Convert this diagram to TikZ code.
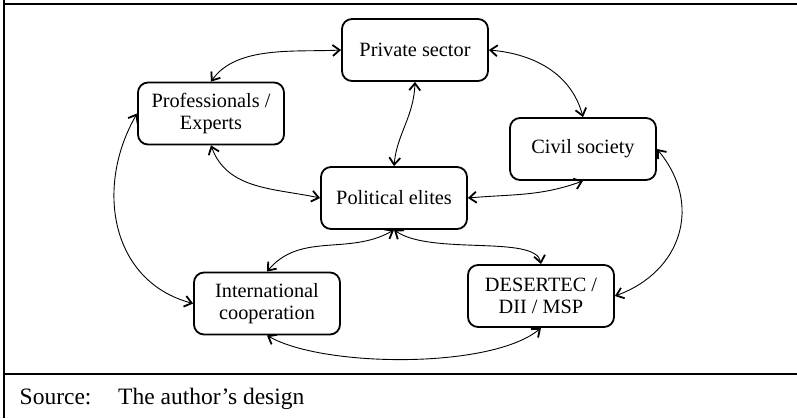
\documentclass[tikz,border=0pt]{standalone}
\usepackage{fontspec}
\setmainfont{Liberation Serif}
\usetikzlibrary{arrows.meta}
\begin{document}
\begin{tikzpicture}[x=1pt,y=1pt,
  actor/.style={draw, line width=1.8pt, rounded corners=10pt, minimum width=146pt, minimum height=62pt,
    align=center, inner sep=0pt, font=\fontsize{20.3}{22.7}\selectfont},
  link/.style={line width=0.9pt, >={Straight Barb[length=7pt,width=11pt,line width=1.8pt]}, <->},
  frameline/.style={line width=1.8pt},
  srctext/.style={anchor=base west, inner sep=0pt, font=\fontsize{23.5}{26}\selectfont}]
\useasboundingbox (0,0) rectangle (797,418);
% frame
\draw[frameline] (3.9,418) -- (3.9,0);
\draw[frameline] (3,414) -- (797,414);
\draw[frameline] (3,44.3) -- (797,44.3);
% actors
\node[actor] (priv) at (415,368) {Private sector};
\node[actor] (prof) at (211,304.5) {Professionals /\\Experts};
\node[actor] (civ) at (583,269) {Civil society};
\node[actor] (pol) at (394,220) {Political elites};
\node[actor] (int) at (267,114.5) {International\\cooperation};
\node[actor] (des) at (541,122) {DESERTEC /\\DII / MSP};
% links
\draw[link] (prof.north) to[out=55,in=183,looseness=0.85] (priv.west);
\draw[link] (priv.east) to[out=-5,in=105] (civ.north);
\draw[link] (priv.south) .. controls +(-92:35) and +(85:32) .. (pol.north);
\draw[link] (prof.south) to[out=-70,in=168] (pol.west);
\draw[link] (pol.east) to[out=5,in=200] (civ.south);
\draw[link] (pol.south) to[out=-150,in=50] (int.north);
\draw[link] (pol.south) .. controls +(-35:45) and +(100:30) .. (des.north);
\draw[link] (int.south) to[out=-30,in=-140,looseness=0.6] (des.south);
\draw[link] (prof.west) to[out=-120,in=165,looseness=1.1] (int.west);
\draw[link] (civ.east) to[out=-50,in=20,looseness=1.2] (des.east);
% source
\node[srctext] (srclabel) at (19.5,14) {Source:};
\node[srctext] (srcvalue) at (118,14) {The author’s design};
\end{tikzpicture}
\end{document}
